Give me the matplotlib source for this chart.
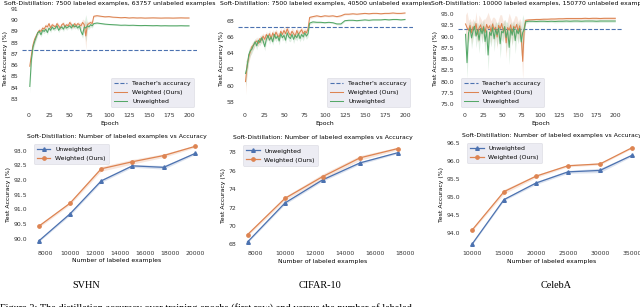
import numpy as np
import matplotlib
matplotlib.use("Agg")
from matplotlib import pyplot as plt

BLUE = "#4C72B0"
ORANGE = "#DD8452"
GREEN = "#55A868"

# ---- top row: accuracy per epoch (epochs 1,3,...,79 then 81, 85, 90, ..., 200)
epochs = np.r_[np.arange(1, 80, 2), 81, np.arange(85, 201, 5)]

svhn_teacher = 87.35
svhn_weighted = [85.9, 86.9, 87.8, 88.3, 88.6, 88.9, 89.1, 89.0, 89.3, 89.2,
                 89.5, 89.4, 89.7, 89.3, 89.6, 89.5, 89.4, 89.7, 89.5, 89.3,
                 89.6, 89.7, 89.4, 89.6, 89.5, 89.8, 89.6, 89.4, 89.7, 89.5,
                 89.7, 89.6, 89.5, 89.8, 89.6, 88.6, 89.6, 89.7, 89.8, 89.7,
                 90.35,
                 90.4, 90.35, 90.3, 90.32, 90.27, 90.25, 90.22, 90.24, 90.2, 90.22,
                 90.2, 90.21, 90.19, 90.2, 90.21, 90.2, 90.19, 90.2, 90.2, 90.19,
                 90.2, 90.21, 90.2, 90.2]
svhn_unweighted = [84.1, 86.5, 87.6, 88.1, 88.5, 88.9, 89.0, 88.7, 89.1, 89.0,
                   89.2, 88.9, 89.3, 89.1, 89.4, 89.2, 89.3, 89.5, 89.1, 89.3,
                   89.4, 89.2, 89.5, 89.3, 89.4, 89.5, 89.3, 89.6, 89.4, 89.5,
                   89.3, 89.5, 89.0, 88.7, 89.4, 89.3, 89.5, 89.4, 89.6, 89.5,
                   89.7,
                   89.75, 89.7, 89.65, 89.62, 89.6, 89.58, 89.55, 89.56, 89.54, 89.55,
                   89.53, 89.52, 89.53, 89.52, 89.51, 89.52, 89.5, 89.51, 89.5, 89.5,
                   89.5, 89.51, 89.5, 89.5]
svhn_spread = [0.6, 0.4, 0.3, 0.3, 0.25, 0.2, 0.2, 0.2, 0.2, 0.2,
               0.2, 0.2, 0.15, 0.2, 0.2, 0.15, 0.2, 0.2, 0.2, 0.15,
               0.2, 0.2, 0.2, 0.2, 0.15, 0.2, 0.2, 0.2, 0.2, 0.2,
               0.2, 0.2, 0.3, 0.3, 0.4, 1.2, 0.3, 0.2, 0.2, 0.2,
               0.1,
               0.08, 0.07, 0.06, 0.06, 0.05, 0.05, 0.05, 0.05, 0.05, 0.05,
               0.05, 0.05, 0.05, 0.05, 0.05, 0.05, 0.05, 0.05, 0.05, 0.05,
               0.05, 0.05, 0.05, 0.05]

cifar_teacher = 67.2
cifar_weighted = [60.5, 62.5, 63.5, 64.2, 64.8, 65.0, 65.3, 65.5, 65.2, 65.8,
                  65.6, 66.1, 65.7, 66.3, 65.9, 66.4, 65.8, 66.5, 66.0, 66.6,
                  66.2, 66.0, 66.7, 66.3, 66.8, 66.4, 67.0, 66.5, 66.2, 66.7,
                  66.4, 66.1, 66.8, 66.3, 66.6, 66.9, 66.4, 66.7, 66.5, 67.0,
                  68.4,
                  68.5, 68.6, 68.5, 68.6, 68.55, 68.6, 68.5, 68.6, 68.8, 68.8,
                  68.85, 68.8, 68.85, 68.9, 68.85, 68.9, 68.9, 68.85, 68.9, 68.9,
                  68.95, 68.9, 68.9, 68.95]
cifar_unweighted = [61.5, 62.3, 63.8, 64.3, 64.5, 65.0, 65.4, 64.9, 65.6, 65.3,
                    65.9, 65.5, 64.8, 65.7, 66.2, 65.6, 66.0, 65.4, 66.3, 65.8,
                    66.1, 65.5, 66.4, 65.9, 66.2, 65.6, 66.5, 66.0, 65.8, 66.3,
                    65.7, 66.2, 65.9, 66.4, 65.8, 66.3, 66.0, 66.5, 66.1, 66.4,
                    67.7,
                    67.85, 67.8, 67.8, 67.75, 67.8, 67.75, 67.6, 67.6, 68.0, 68.05,
                    68.05, 68.0, 68.05, 68.1, 68.05, 68.1, 68.1, 68.1, 68.15, 68.1,
                    68.15, 68.15, 68.1, 68.15]
cifar_spread = [1.6, 0.9, 0.7, 0.6, 0.5, 0.5, 0.4, 0.5, 0.4, 0.4,
                0.5, 0.4, 0.5, 0.4, 0.4, 0.5, 0.4, 0.4, 0.5, 0.4,
                0.4, 0.5, 0.4, 0.4, 0.5, 0.4, 0.4, 0.5, 0.4, 0.4,
                0.5, 0.4, 0.4, 0.5, 0.4, 0.4, 0.5, 0.4, 0.4, 0.4,
                0.2,
                0.15, 0.12, 0.12, 0.1, 0.1, 0.1, 0.12, 0.12, 0.1, 0.1,
                0.08, 0.08, 0.08, 0.08, 0.08, 0.08, 0.08, 0.08, 0.08, 0.08,
                0.08, 0.08, 0.08, 0.08]

celeba_teacher = 91.7
celeba_weighted = [92.8, 92.0, 91.4, 92.5, 90.8, 92.2, 91.6, 92.9, 90.5, 91.9,
                   92.6, 91.2, 92.3, 90.9, 92.7, 91.8, 92.4, 91.0, 92.8, 91.5,
                   92.1, 89.9, 92.5, 91.7, 92.9, 91.3, 92.2, 88.6, 92.0, 91.4,
                   92.6, 90.7, 92.3, 91.8, 92.7, 91.1, 92.4, 90.2, 84.5, 91.9,
                   93.6,
                   93.7, 93.75, 93.8, 93.8, 93.85, 93.85, 93.9, 93.9, 93.95, 93.95,
                   94.0, 94.0, 94.0, 94.0, 94.0, 94.05, 94.0, 94.05, 94.05, 94.0,
                   94.05, 94.05, 94.05, 94.05]
celeba_unweighted = [90.5, 84.2, 90.8, 91.9, 89.7, 91.2, 92.3, 90.1, 91.5, 89.2,
                     91.8, 90.6, 92.1, 88.9, 91.3, 85.9, 91.0, 90.2, 92.0, 89.5,
                     91.6, 90.4, 91.9, 88.4, 91.2, 90.8, 92.2, 89.8, 91.4, 87.6,
                     91.7, 90.3, 92.0, 89.1, 91.5, 90.6, 91.8, 88.8, 90.9, 91.6,
                     93.3,
                     93.4, 93.4, 93.35, 93.4, 93.4, 93.35, 93.4, 93.35, 93.4, 93.4,
                     93.45, 93.4, 93.45, 93.45, 93.4, 93.45, 93.45, 93.45, 93.4, 93.45,
                     93.45, 93.45, 93.45, 93.45]
celeba_spread = [2.0, 3.5, 2.2, 1.5, 2.4, 1.8, 1.4, 2.6, 1.7, 2.9,
                 1.5, 2.2, 1.6, 3.0, 1.8, 3.6, 1.9, 2.5, 1.5, 2.8,
                 1.7, 2.6, 1.5, 3.2, 1.9, 2.1, 1.6, 3.4, 1.8, 3.8,
                 1.6, 2.4, 1.5, 2.9, 1.8, 2.2, 1.6, 3.1, 4.0, 2.0,
                 0.4,
                 0.3, 0.25, 0.25, 0.25, 0.25, 0.25, 0.25, 0.3, 0.3, 0.3,
                 0.3, 0.3, 0.3, 0.3, 0.3, 0.3, 0.3, 0.3, 0.3, 0.3,
                 0.3, 0.3, 0.3, 0.3]

# ---- bottom row: accuracy vs number of labeled examples
svhn_labeled = [7500, 10000, 12500, 15000, 17500, 20000]
svhn_unw_acc = [89.93, 90.85, 91.97, 92.48, 92.43, 92.90]
svhn_unw_err = [0.03, 0.05, 0.05, 0.05, 0.06, 0.04]
svhn_w_acc = [90.43, 91.21, 92.38, 92.62, 92.83, 93.14]
svhn_w_err = [0.05, 0.05, 0.08, 0.08, 0.06, 0.04]

cifar_labeled = [7500, 10000, 12500, 15000, 17500]
cifar_unw_acc = [68.25, 72.5, 75.0, 76.85, 77.95]
cifar_unw_err = [0.1, 0.15, 0.15, 0.15, 0.1]
cifar_w_acc = [69.05, 73.0, 75.35, 77.4, 78.4]
cifar_w_err = [0.15, 0.2, 0.3, 0.25, 0.15]

celeba_labeled = [10000, 15000, 20000, 25000, 30000, 35000]
celeba_unw_acc = [93.68, 94.92, 95.38, 95.69, 95.73, 96.15]
celeba_unw_err = [0.02, 0.03, 0.04, 0.04, 0.06, 0.03]
celeba_w_acc = [94.07, 95.14, 95.57, 95.86, 95.91, 96.36]
celeba_w_err = [0.03, 0.06, 0.04, 0.03, 0.03, 0.02]

FS = 4.4
W, H = 640, 307

fig = plt.figure(figsize=(6.4, 3.07), dpi=100)


def px_axes(left, top, right, bottom):
    ax = fig.add_axes([left / W, 1 - bottom / H, (right - left) / W, (bottom - top) / H])
    for s in ax.spines.values():
        s.set_visible(False)
    ax.tick_params(length=0, pad=2.5, labelsize=FS, colors="#333333")
    return ax


def epoch_panel(ax, title, teacher, weighted, unweighted, spread, ylim, yticks, loc):
    weighted = np.array(weighted)
    unweighted = np.array(unweighted)
    spread = np.array(spread)
    ax.axhline(teacher, color=BLUE, ls="--", lw=0.8, label="Teacher's accuracy", zorder=1)
    ax.fill_between(epochs, weighted - spread, weighted + spread, color=ORANGE, alpha=0.18, lw=0)
    ax.plot(epochs, weighted, color=ORANGE, lw=0.75, label="Weighted (Ours)")
    ax.fill_between(epochs, unweighted - spread, unweighted + spread, color=GREEN, alpha=0.18, lw=0)
    ax.plot(epochs, unweighted, color=GREEN, lw=0.75, label="Unweighted")
    ax.set_xlim(-9, 210)
    ax.set_xticks([0, 25, 50, 75, 100, 125, 150, 175, 200])
    ax.set_ylim(*ylim)
    ax.set_yticks(yticks)
    ax.set_title(title, fontsize=FS, pad=2)
    ax.set_xlabel("Epoch", fontsize=FS, labelpad=1.5)
    ax.set_ylabel("Test Accuracy (%)", fontsize=FS, labelpad=2)
    leg = ax.legend(loc=loc, fontsize=FS, facecolor="#eaeaf2", edgecolor="#d5d5dd",
                    framealpha=0.9, borderpad=0.5, handlelength=2.2, labelspacing=0.6)
    leg.get_frame().set_linewidth(0.4)


def labeled_panel(ax, xs, unw, unw_err, w, w_err, ylim, yticks, xticks):
    unw = np.array(unw)
    w = np.array(w)
    ax.fill_between(xs, unw - np.array(unw_err), unw + np.array(unw_err), color=BLUE, alpha=0.2, lw=0)
    ax.plot(xs, unw, color=BLUE, marker="^", ms=2.6, lw=0.9, label="Unweighted")
    ax.fill_between(xs, w - np.array(w_err), w + np.array(w_err), color=ORANGE, alpha=0.2, lw=0)
    ax.plot(xs, w, color=ORANGE, marker="o", ms=2.4, lw=0.9, label="Weighted (Ours)")
    span = xs[-1] - xs[0]
    ax.set_xlim(xs[0] - 0.05 * span, xs[-1] + 0.05 * span)
    ax.set_xticks(xticks)
    ax.set_ylim(*ylim)
    ax.set_yticks(yticks)
    ax.set_title("Soft-Distillation: Number of labeled examples vs Accuracy", fontsize=FS, pad=2)
    ax.set_xlabel("Number of labeled examples", fontsize=FS, labelpad=1.5)
    ax.set_ylabel("Test Accuracy (%)", fontsize=FS, labelpad=2)
    leg = ax.legend(loc="upper left", fontsize=FS, facecolor="#eaeaf2", edgecolor="#d5d5dd",
                    framealpha=0.9, borderpad=0.5, handlelength=2.2, labelspacing=0.6)
    leg.get_frame().set_linewidth(0.4)


ax1 = px_axes(21.8, 7.3, 197, 110)
epoch_panel(ax1, "Soft-Distillation: 7500 labeled examples, 63757 unlabeled examples",
            svhn_teacher, svhn_weighted, svhn_unweighted, svhn_spread,
            (82.0, 91.15), np.arange(83, 92, 1), "lower right")

ax2 = px_axes(237.5, 7.3, 413, 110)
epoch_panel(ax2, "Soft-Distillation: 7500 labeled examples, 40500 unlabeled examples",
            cifar_teacher, cifar_weighted, cifar_unweighted, cifar_spread,
            (57.0, 69.65), np.arange(58, 69, 2), "lower right")

ax3 = px_axes(458, 7.3, 622.8, 110)
epoch_panel(ax3, "Soft-Distillation: 10000 labeled examples, 150770 unlabeled examples",
            celeba_teacher, celeba_weighted, celeba_unweighted, celeba_spread,
            (73.7, 96.5), np.arange(75, 96, 2.5), "lower left")
ax3.yaxis.set_major_formatter(matplotlib.ticker.FormatStrFormatter("%.1f"))

ax4 = px_axes(30.9, 140.8, 202.8, 247.8)
labeled_panel(ax4, svhn_labeled, svhn_unw_acc, svhn_unw_err, svhn_w_acc, svhn_w_err,
              (89.7, 93.33), np.arange(90, 93.01, 0.5), [8000, 10000, 12000, 14000, 16000, 18000, 20000])
ax4.yaxis.set_major_formatter(matplotlib.ticker.FormatStrFormatter("%.1f"))

ax5 = px_axes(240, 142.2, 405, 248)
labeled_panel(ax5, cifar_labeled, cifar_unw_acc, cifar_unw_err, cifar_w_acc, cifar_w_err,
              (67.6, 79.1), np.arange(68, 79, 2), [8000, 10000, 12000, 14000, 16000, 18000])

ax6 = px_axes(464, 140, 640, 248)
labeled_panel(ax6, celeba_labeled, celeba_unw_acc, celeba_unw_err, celeba_w_acc, celeba_w_err,
              (93.575, 96.575), np.arange(94, 96.51, 0.5), [10000, 15000, 20000, 25000, 30000, 35000])
ax6.yaxis.set_major_formatter(matplotlib.ticker.FormatStrFormatter("%.1f"))

serif = ["Liberation Serif", "DejaVu Serif"]
for name, xc in [("SVHN", 86), ("CIFAR-10", 320), ("CelebA", 556)]:
    fig.text(xc / W, 1 - 285 / H, name, ha="center", va="center", fontsize=7.4, family=serif)
# caption line, only its upper part falls inside the figure
fig.text(0.0, 1 - 311 / H,
         "Figure 3: The distillation accuracy over training epochs (first row) and versus the number of labeled",
         ha="left", va="baseline", fontsize=7.4, family=serif)

fig.savefig("out.png", dpi=100)
